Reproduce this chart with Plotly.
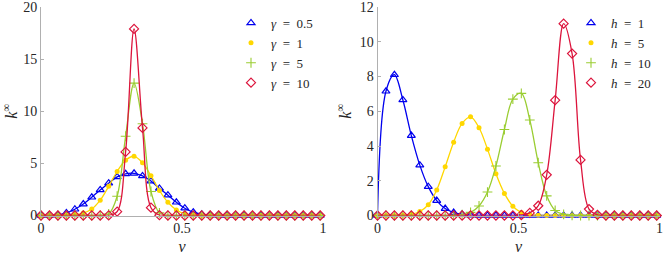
import plotly.graph_objects as go

# marker grid (v)
v = [0.00, 0.03, 0.06, 0.09, 0.12, 0.15, 0.18, 0.21, 0.24, 0.27, 0.30, 0.33,
     0.36, 0.39, 0.42, 0.45, 0.48, 0.51, 0.54, 0.57, 0.60, 0.63, 0.66, 0.69,
     0.72, 0.75, 0.78, 0.81, 0.84, 0.87, 0.90, 0.93, 0.96, 0.99]

# left panel: varying gamma
gamma_05 = [0, 0, 0.05, 0.25, 0.6, 1.1, 1.75, 2.45, 3.1, 3.7, 4.0, 4.05,
            3.8, 3.3, 2.6, 1.95, 1.27, 0.7, 0.32, 0.12, 0.04, 0.01, 0, 0,
            0, 0, 0, 0, 0, 0, 0, 0, 0, 0]
gamma_1 = [0, 0, 0, 0.02, 0.07, 0.23, 0.62, 1.47, 2.8, 4.22, 5.3, 5.68,
           5.05, 3.82, 2.4, 1.27, 0.53, 0.17, 0.04, 0.01, 0, 0, 0, 0,
           0, 0, 0, 0, 0, 0, 0, 0, 0, 0]
gamma_5 = [0, 0, 0, 0, 0, 0, 0, 0.02, 0.15, 1.85, 7.6, 12.7,
           8.8, 2.3, 0.25, 0.02, 0, 0, 0, 0, 0, 0, 0, 0,
           0, 0, 0, 0, 0, 0, 0, 0, 0, 0]
gamma_10 = [0, 0, 0, 0, 0, 0, 0, 0, 0.01, 0.37, 6.1, 17.9,
            8.4, 0.75, 0.03, 0, 0, 0, 0, 0, 0, 0, 0, 0,
            0, 0, 0, 0, 0, 0, 0, 0, 0, 0]

# right panel: varying h
h_1 = [0, 7.15, 8.1, 6.65, 4.6, 2.9, 1.66, 0.86, 0.4, 0.17, 0.07, 0.02,
       0, 0, 0, 0, 0, 0, 0, 0, 0, 0, 0, 0,
       0, 0, 0, 0, 0, 0, 0, 0, 0, 0]
h_5 = [0, 0, 0, 0.02, 0.07, 0.23, 0.62, 1.47, 2.8, 4.22, 5.3, 5.68,
       5.05, 3.82, 2.4, 1.27, 0.53, 0.17, 0.04, 0.01, 0, 0, 0, 0,
       0, 0, 0, 0, 0, 0, 0, 0, 0, 0]
h_10 = [0, 0, 0, 0, 0, 0, 0, 0, 0, 0.01, 0.05, 0.18,
        0.55, 1.35, 2.85, 4.95, 6.7, 7.03, 5.5, 3.04, 1.13, 0.29, 0.07, 0.01,
        0, 0, 0, 0, 0, 0, 0, 0, 0, 0]
h_20 = [0, 0, 0, 0, 0, 0, 0, 0, 0, 0, 0, 0,
        0, 0, 0, 0, 0, 0.03, 0.15, 0.56, 2.34, 6.64, 11.04, 9.32,
        3.2, 0.37, 0.04, 0, 0, 0, 0, 0, 0, 0]

SP = "\u2002"
left_names = [f"<i>γ</i>{SP}={SP}0.5", f"<i>γ</i>{SP}={SP}1", f"<i>γ</i>{SP}={SP}5", f"<i>γ</i>{SP}={SP}10"]
right_names = [f"<i>h</i>{SP}={SP}1", f"<i>h</i>{SP}={SP}5", f"<i>h</i>{SP}={SP}10", f"<i>h</i>{SP}={SP}20"]
x_ticks = [0, 0.5, 1]
x_ticklabels = ["0", "0.5", "1"]
left_yticks = [0, 5, 10, 15, 20]
right_yticks = [0, 2, 4, 6, 8, 10, 12]

colors = ["#0000ee", "#ffd700", "#9acd32", "#dc143c"]
styles = [
    dict(symbol="triangle-up-open", size=7, line=dict(width=1.2)),
    dict(symbol="circle", size=5, line=dict(width=0)),
    dict(symbol="cross-thin-open", size=7, line=dict(width=1.1)),
    dict(symbol="diamond-open", size=7, line=dict(width=1.2)),
]

FONT = "Liberation Serif, Times New Roman, serif"
TXT = "#262626"

fig = go.Figure()

def add_panel(series, names, xa, ya, legend):
    for s, name, c, st in zip(series, names, colors, styles):
        fig.add_trace(go.Scatter(
            x=v, y=s, mode="lines", line=dict(color=c, width=1.3, shape="spline", smoothing=1.0),
            xaxis=xa, yaxis=ya, showlegend=False, hoverinfo="skip"))
        mk = dict(st)
        mk["color"] = c
        mk["line"] = dict(st["line"], color=c)
        fig.add_trace(go.Scatter(
            x=v, y=s, mode="markers", marker=mk, name=name,
            xaxis=xa, yaxis=ya, legend=legend, cliponaxis=False))

add_panel([gamma_05, gamma_1, gamma_5, gamma_10], left_names, "x", "y", "legend")
add_panel([h_1, h_5, h_10, h_20], right_names, "x2", "y2", "legend2")

axis_common = dict(
    showgrid=False, zeroline=False, showline=True, linecolor="#b0b0b0", linewidth=1,
    ticks="inside", ticklen=3, tickcolor="#b0b0b0", ticklabeloverflow="allow",
    tickfont=dict(family=FONT, size=14, color=TXT), automargin=False,
)

fig.update_layout(
    width=664, height=255,
    margin=dict(l=0, r=0, t=0, b=0),
    paper_bgcolor="white", plot_bgcolor="white",
    font=dict(family=FONT, size=14, color=TXT),
    xaxis=dict(domain=[41 / 664, 323 / 664], range=[0, 1], tickvals=x_ticks, ticktext=x_ticklabels,
               title=dict(text="<i>v</i>", standoff=9, font=dict(family=FONT, size=16, color=TXT)),
               anchor="y", **axis_common),
    yaxis=dict(domain=[39.5 / 255, 248 / 255], range=[0, 20], tickvals=left_yticks,
               title=dict(text="<i>k</i><sup>∞</sup>", standoff=5, font=dict(family=FONT, size=16, color=TXT)),
               anchor="x", **axis_common),
    xaxis2=dict(domain=[377.5 / 664, 659.5 / 664], range=[0, 1], tickvals=x_ticks, ticktext=x_ticklabels,
                title=dict(text="<i>v</i>", standoff=9, font=dict(family=FONT, size=16, color=TXT)),
                anchor="y2", **axis_common),
    yaxis2=dict(domain=[39.5 / 255, 248 / 255], range=[0, 12], tickvals=right_yticks,
                title=dict(text="<i>k</i><sup>∞</sup>", standoff=4, font=dict(family=FONT, size=16, color=TXT)),
                anchor="x2", **axis_common),
    legend=dict(x=231 / 664, y=1 - 8 / 255, xanchor="left", yanchor="top",
                bgcolor="rgba(0,0,0,0)", font=dict(family=FONT, size=13, color=TXT),
                tracegroupgap=0, itemwidth=30),
    legend2=dict(x=571 / 664, y=1 - 8 / 255, xanchor="left", yanchor="top",
                 bgcolor="rgba(0,0,0,0)", font=dict(family=FONT, size=13, color=TXT),
                 tracegroupgap=0, itemwidth=30),
)

fig.write_html("out.html", config={"displayModeBar": False},
               post_script="document.body.style.margin='0';document.body.style.padding='0';")
